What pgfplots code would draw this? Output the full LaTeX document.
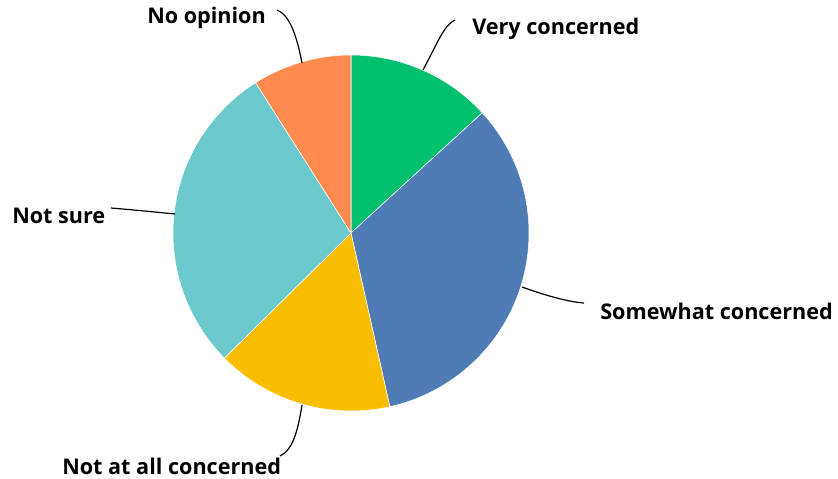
\documentclass[border=0pt]{standalone}
\usepackage{fontspec}
\setmainfont{Open Sans}
\usepackage{pgfplots}
\pgfplotsset{compat=1.18}

\definecolor{vc}{HTML}{00BF6F}
\definecolor{sc}{HTML}{507CB6}
\definecolor{nc}{HTML}{F9BE00}
\definecolor{ns}{HTML}{6BC8CD}
\definecolor{no}{HTML}{FF8B4F}

% shares in percent (clockwise from 12 o'clock)
% Very concerned 13.2, Somewhat 33.3, Not at all 16.1, Not sure 28.4, No opinion 9.0
\newcommand{\R}{133.5pt}

\begin{document}
\begin{tikzpicture}
\begin{axis}[
    scale only axis,
    width=628.5pt, height=358.5pt,
    xmin=0, xmax=838, ymin=0, ymax=478,
    y dir=reverse,
    hide axis,
    clip=false,
]
\addplot[draw=none] coordinates {(0,0) (838,478)};

\fill[vc, draw=white, line width=0.4pt] (axis cs:351,233) -- ++(90:\R)
    arc[start angle=90, delta angle=-13.2*3.6, radius=\R] -- cycle;
\fill[sc, draw=white, line width=0.4pt] (axis cs:351,233) -- ++(42.48:\R)
    arc[start angle=42.48, delta angle=-33.3*3.6, radius=\R] -- cycle;
\fill[nc, draw=white, line width=0.4pt] (axis cs:351,233) -- ++(-77.4:\R)
    arc[start angle=-77.4, delta angle=-16.1*3.6, radius=\R] -- cycle;
\fill[ns, draw=white, line width=0.4pt] (axis cs:351,233) -- ++(-135.36:\R)
    arc[start angle=-135.36, delta angle=-28.4*3.6, radius=\R] -- cycle;
\fill[no, draw=white, line width=0.4pt] (axis cs:351,233) -- ++(-237.6:\R)
    arc[start angle=-237.6, delta angle=-9.0*3.6, radius=\R] -- cycle;

% leader lines
\draw[black, line width=0.9pt] (axis cs:423,70) .. controls (axis cs:438,42) and (axis cs:444,25) .. (axis cs:455,20);
\draw[black, line width=0.9pt] (axis cs:522,287) .. controls (axis cs:550,297) and (axis cs:570,302) .. (axis cs:584,303);
\draw[black, line width=0.9pt] (axis cs:302,405) .. controls (axis cs:298,430) and (axis cs:293,450) .. (axis cs:280,456);
\draw[black, line width=0.9pt] (axis cs:111,208) .. controls (axis cs:135,210) and (axis cs:155,212) .. (axis cs:175,214);
\draw[black, line width=0.9pt] (axis cs:302,63) .. controls (axis cs:297,37) and (axis cs:290,15) .. (axis cs:277,10);

% labels
\tikzset{lbl/.style={anchor=west, inner sep=0pt, font=\fontsize{16.2}{19}\selectfont\bfseries}}
\node[lbl] at (axis cs:472,29) {Very concerned};
\node[lbl] at (axis cs:600,311) {Somewhat concerned};
\node[lbl] at (axis cs:62,466) {Not at all concerned};
\node[lbl] at (axis cs:12,216) {Not sure};
\node[lbl] at (axis cs:147,18) {No opinion};
\end{axis}
\end{tikzpicture}
\end{document}
